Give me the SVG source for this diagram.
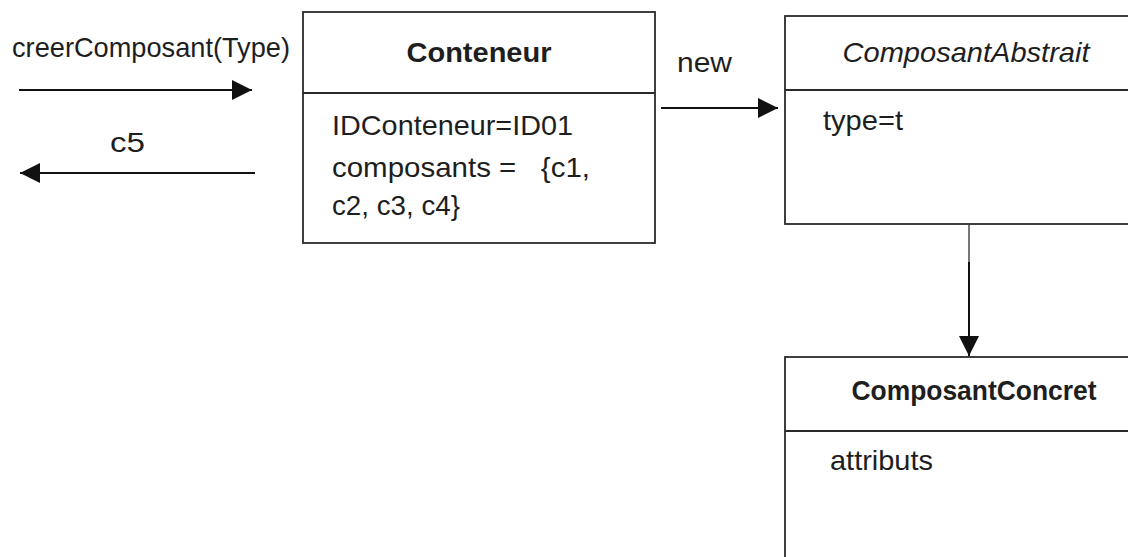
<svg xmlns="http://www.w3.org/2000/svg" width="1128" height="557" viewBox="0 0 1128 557">
<style>
.box{fill:#fff;stroke:#2a2a2a;stroke-width:1.8}
.ln{stroke:#2a2a2a;stroke-width:1.8;fill:none}
.t{font-family:"Liberation Sans",Arial,sans-serif;fill:#1e1e1e;font-size:28px}
.con{stroke:#111;stroke-width:2;fill:none}
</style>
<defs>
<marker id="ah" viewBox="0 0 20 20" refX="20" refY="10" markerWidth="20" markerHeight="20" markerUnits="userSpaceOnUse" orient="auto">
<path d="M0,0 L20,10 L0,20 Z" fill="#111"/>
</marker>
</defs>
<rect width="1128" height="557" fill="#fff"/>
<g id="conteneur">
<rect class="box" x="303" y="12" width="352" height="231"/>
<line class="ln" x1="303" y1="93" x2="655" y2="93"/>
<text class="t" x="479" y="62" font-weight="bold" text-anchor="middle" textLength="145" lengthAdjust="spacingAndGlyphs">Conteneur</text>
<text class="t" x="332" y="135" textLength="241" lengthAdjust="spacingAndGlyphs">IDConteneur=ID01</text>
<text class="t" x="332" y="177" textLength="258" lengthAdjust="spacingAndGlyphs" xml:space="preserve">composants =   {c1,</text>
<text class="t" x="332" y="215" textLength="128" lengthAdjust="spacingAndGlyphs">c2, c3, c4}</text>
</g>
<g id="composantAbstrait">
<rect class="box" x="785" y="16" width="360" height="208"/>
<line class="ln" x1="785" y1="90" x2="1128" y2="90"/>
<text class="t" x="966" y="62" font-style="italic" text-anchor="middle" textLength="247" lengthAdjust="spacingAndGlyphs">ComposantAbstrait</text>
<text class="t" x="823" y="130" textLength="80" lengthAdjust="spacingAndGlyphs">type=t</text>
</g>
<g id="composantConcret">
<rect class="box" x="785" y="357" width="360" height="220"/>
<line class="ln" x1="785" y1="431" x2="1128" y2="431"/>
<text class="t" x="974" y="400" font-weight="bold" text-anchor="middle" textLength="245" lengthAdjust="spacingAndGlyphs">ComposantConcret</text>
<text class="t" x="830" y="470" textLength="103" lengthAdjust="spacingAndGlyphs">attributs</text>
</g>
<g id="connectors">
<line class="con" x1="19" y1="90" x2="252" y2="90" marker-end="url(#ah)"/>
<line class="con" x1="255" y1="173" x2="20" y2="173" marker-end="url(#ah)"/>
<line class="con" x1="661" y1="108" x2="778" y2="108" marker-end="url(#ah)"/>
<line class="con" x1="969" y1="225" x2="969" y2="356" marker-end="url(#ah)"/>
<line x1="969" y1="225" x2="969" y2="262" stroke="#777" stroke-width="2"/>
<text class="t" x="12" y="57" textLength="278" lengthAdjust="spacingAndGlyphs">creerComposant(Type)</text>
<text class="t" x="110" y="152" font-size="27" textLength="35" lengthAdjust="spacingAndGlyphs">c5</text>
<text class="t" x="677" y="72" font-size="30" textLength="55" lengthAdjust="spacingAndGlyphs">new</text>
</g>
</svg>
